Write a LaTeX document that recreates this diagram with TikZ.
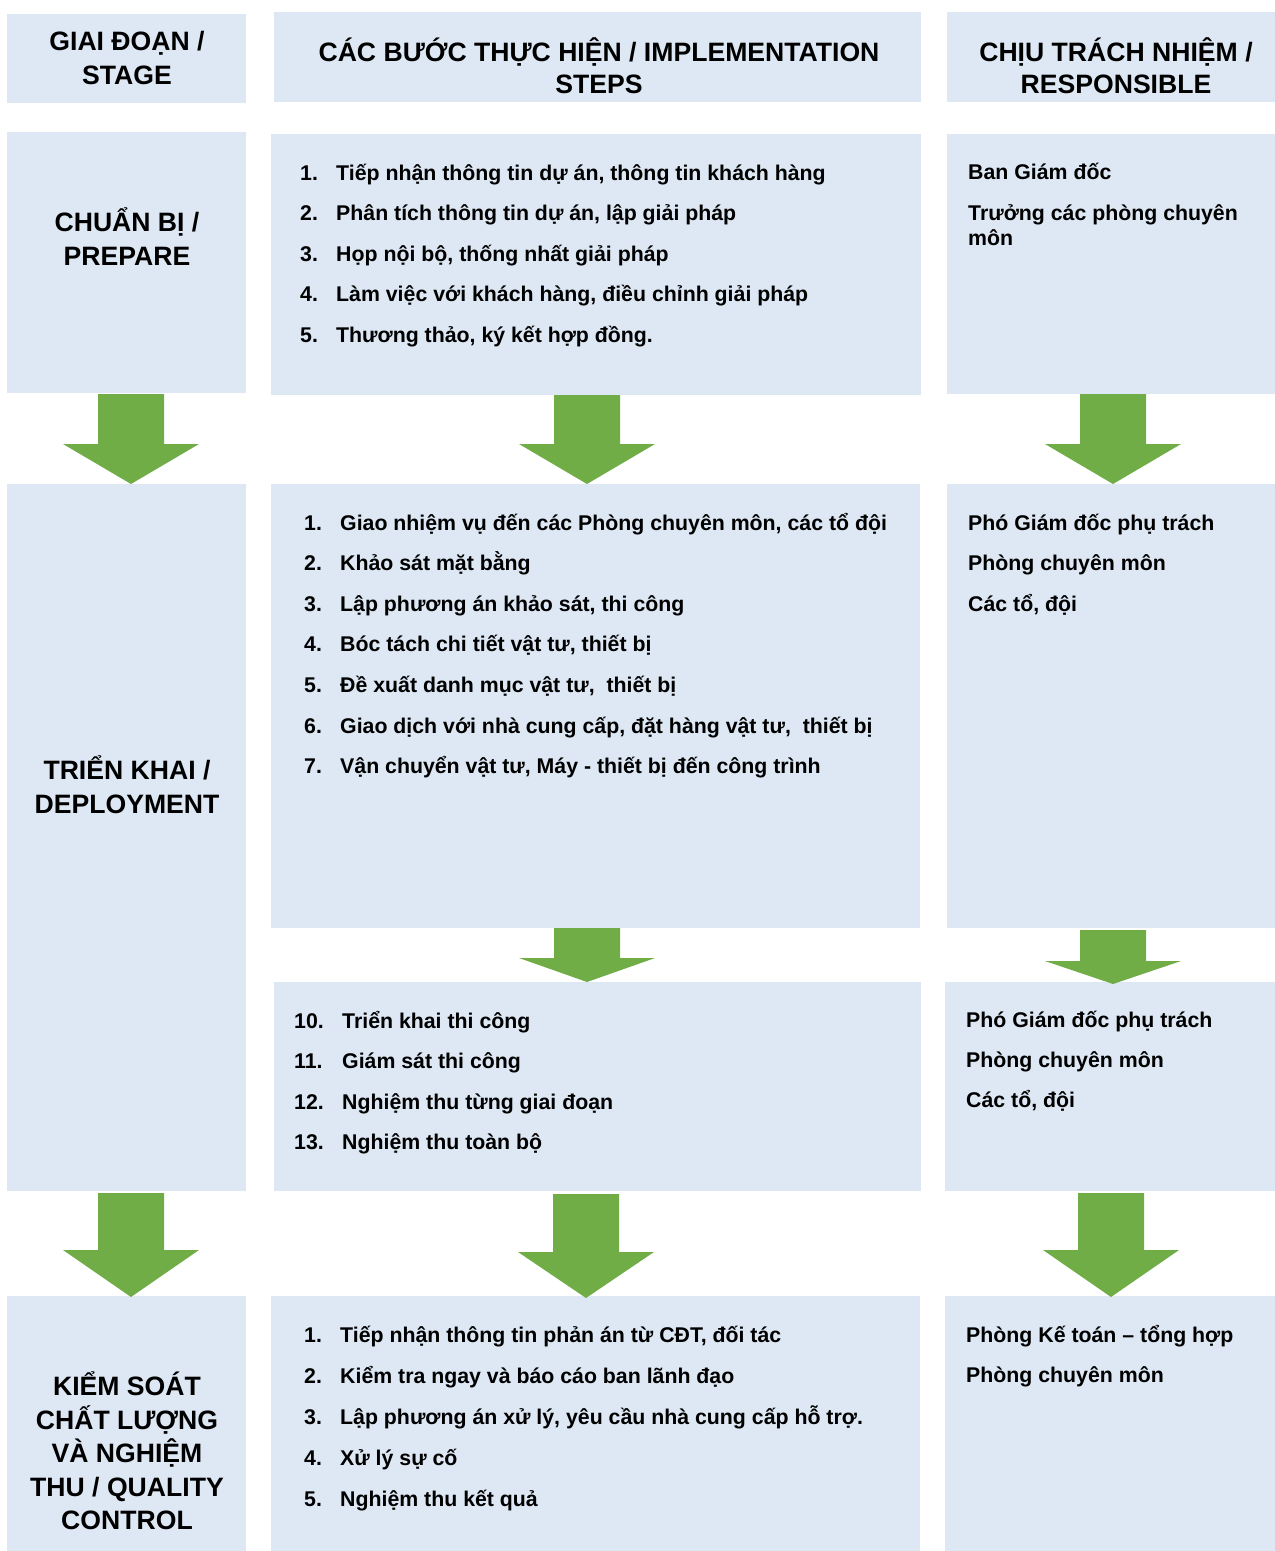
\documentclass[tikz,border=0pt]{standalone}
\usepackage{fontspec}
\setmainfont{Liberation Sans}
\definecolor{boxblue}{RGB}{221,232,244}
\definecolor{arrowgreen}{RGB}{112,173,71}
\tikzset{
  box/.style={fill=boxblue},
  barrow/.style={fill=arrowgreen},
  head/.style={font=\fontsize{26.6}{34}\selectfont\bfseries, align=center, inner sep=0pt},
  item/.style={font=\fontsize{21.3}{25}\selectfont\bfseries, anchor=base west, inner sep=0pt},
}
\newcommand{\blockarrow}[4]{%
  \fill[barrow] (#1-33,#2) -- (#1+33,#2) -- (#1+33,#3) -- (#1+68,#3) -- (#1,#4) -- (#1-68,#3) -- (#1-33,#3) -- cycle;}
\begin{document}
\begin{tikzpicture}[x=1pt,y=-1pt]
\useasboundingbox (0,0) rectangle (1275,1551);
% boxes
\fill[box] (7,14) rectangle (246,103);
\fill[box] (274,12) rectangle (921,102);
\fill[box] (947,12) rectangle (1275,102);
\fill[box] (7,132) rectangle (246,393);
\fill[box] (271,134) rectangle (921,395);
\fill[box] (947,134) rectangle (1275,394);
\fill[box] (7,484) rectangle (246,1191);
\fill[box] (271,484) rectangle (920,928);
\fill[box] (947,484) rectangle (1275,928);
\fill[box] (274,982) rectangle (921,1191);
\fill[box] (945,982) rectangle (1275,1191);
\fill[box] (7,1296) rectangle (246,1551);
\fill[box] (271,1296) rectangle (920,1551);
\fill[box] (945,1296) rectangle (1275,1551);
% arrows
\blockarrow{131}{394}{444}{484}
\blockarrow{587}{395}{444}{484}
\blockarrow{1113}{394}{444}{484}
\blockarrow{587}{928}{958}{982}
\blockarrow{1113}{930}{961}{984}
\blockarrow{131}{1193}{1250}{1297}
\blockarrow{586}{1194}{1252}{1298}
\blockarrow{1111}{1193}{1250}{1297}
% headers
\node[head] (hstage) at (127,58) {GIAI ĐOẠN /\\STAGE};
\node[head, font=\fontsize{26.6}{32}\selectfont\bfseries] (hsteps) at (599,66) {CÁC BƯỚC THỰC HIỆN / IMPLEMENTATION\\STEPS};
\node[head, font=\fontsize{26.6}{32}\selectfont\bfseries] (hresp) at (1116,66) {CHỊU TRÁCH NHIỆM /\\RESPONSIBLE};
\node[head] (stage1) at (127,237) {CHUẨN BỊ /\\PREPARE};
\node[head] (stage2) at (127,785) {TRIỂN KHAI /\\DEPLOYMENT};
\node[head, font=\fontsize{26.6}{33.5}\selectfont\bfseries] (stage3) at (127,1451) {KIỂM SOÁT\\CHẤT LƯỢNG\\VÀ NGHIỆM\\THU / QUALITY\\CONTROL};
% row 1 steps
\foreach \t [count=\i] in {{Tiếp nhận thông tin dự án, thông tin khách hàng},{Phân tích thông tin dự án, lập giải pháp},{Họp nội bộ, thống nhất giải pháp},{Làm việc với khách hàng, điều chỉnh giải pháp},{Thương thảo, ký kết hợp đồng.}}{
  \node[item] (an\i) at (300,{180+40.5*(\i-1)}) {\i.};
  \node[item] (at\i) at (336,{180+40.5*(\i-1)}) {\t};
}
% row 2 steps
\foreach \t [count=\i] in {{Giao nhiệm vụ đến các Phòng chuyên môn, các tổ đội},{Khảo sát mặt bằng},{Lập phương án khảo sát, thi công},{Bóc tách chi tiết vật tư, thiết bị},{Đề xuất danh mục vật tư,\ \ thiết bị},{Giao dịch với nhà cung cấp, đặt hàng vật tư,\ \ thiết bị},{Vận chuyển vật tư, Máy - thiết bị đến công trình}}{
  \node[item] (bn\i) at (304,{530+40.6*(\i-1)}) {\i.};
  \node[item] (bt\i) at (340,{530+40.6*(\i-1)}) {\t};
}
% row 2 lower steps
\foreach \n/\t [count=\i] in {10/{Triển khai thi công},11/{Giám sát thi công},12/{Nghiệm thu từng giai đoạn},13/{Nghiệm thu toàn bộ}}{
  \node[item] (cn\i) at (294,{1028+40.6*(\i-1)}) {\n.};
  \node[item] (ct\i) at (342,{1028+40.6*(\i-1)}) {\t};
}
% row 3 steps
\foreach \t [count=\i] in {{Tiếp nhận thông tin phản án từ CĐT, đối tác},{Kiểm tra ngay và báo cáo ban lãnh đạo},{Lập phương án xử lý, yêu cầu nhà cung cấp hỗ trợ.},{Xử lý sự cố},{Nghiệm thu kết quả}}{
  \node[item] (dn\i) at (304,{1342+41*(\i-1)}) {\i.};
  \node[item] (dt\i) at (340,{1342+41*(\i-1)}) {\t};
}
% responsible
\node[item] (r1a) at (968,179) {Ban Giám đốc};
\node[item] (r1b) at (968,220) {Trưởng các phòng chuyên};
\node[item] (r1c) at (968,245) {môn};
\node[item] (r2a) at (968,530) {Phó Giám đốc phụ trách};
\node[item] (r2b) at (968,570) {Phòng chuyên môn};
\node[item] (r2c) at (968,611) {Các tổ, đội};
\node[item] (r3a) at (966,1027) {Phó Giám đốc phụ trách};
\node[item] (r3b) at (966,1067) {Phòng chuyên môn};
\node[item] (r3c) at (966,1107) {Các tổ, đội};
\node[item] (r4a) at (966,1342) {Phòng Kế toán – tổng hợp};
\node[item] (r4b) at (966,1382) {Phòng chuyên môn};
\end{tikzpicture}
\end{document}
